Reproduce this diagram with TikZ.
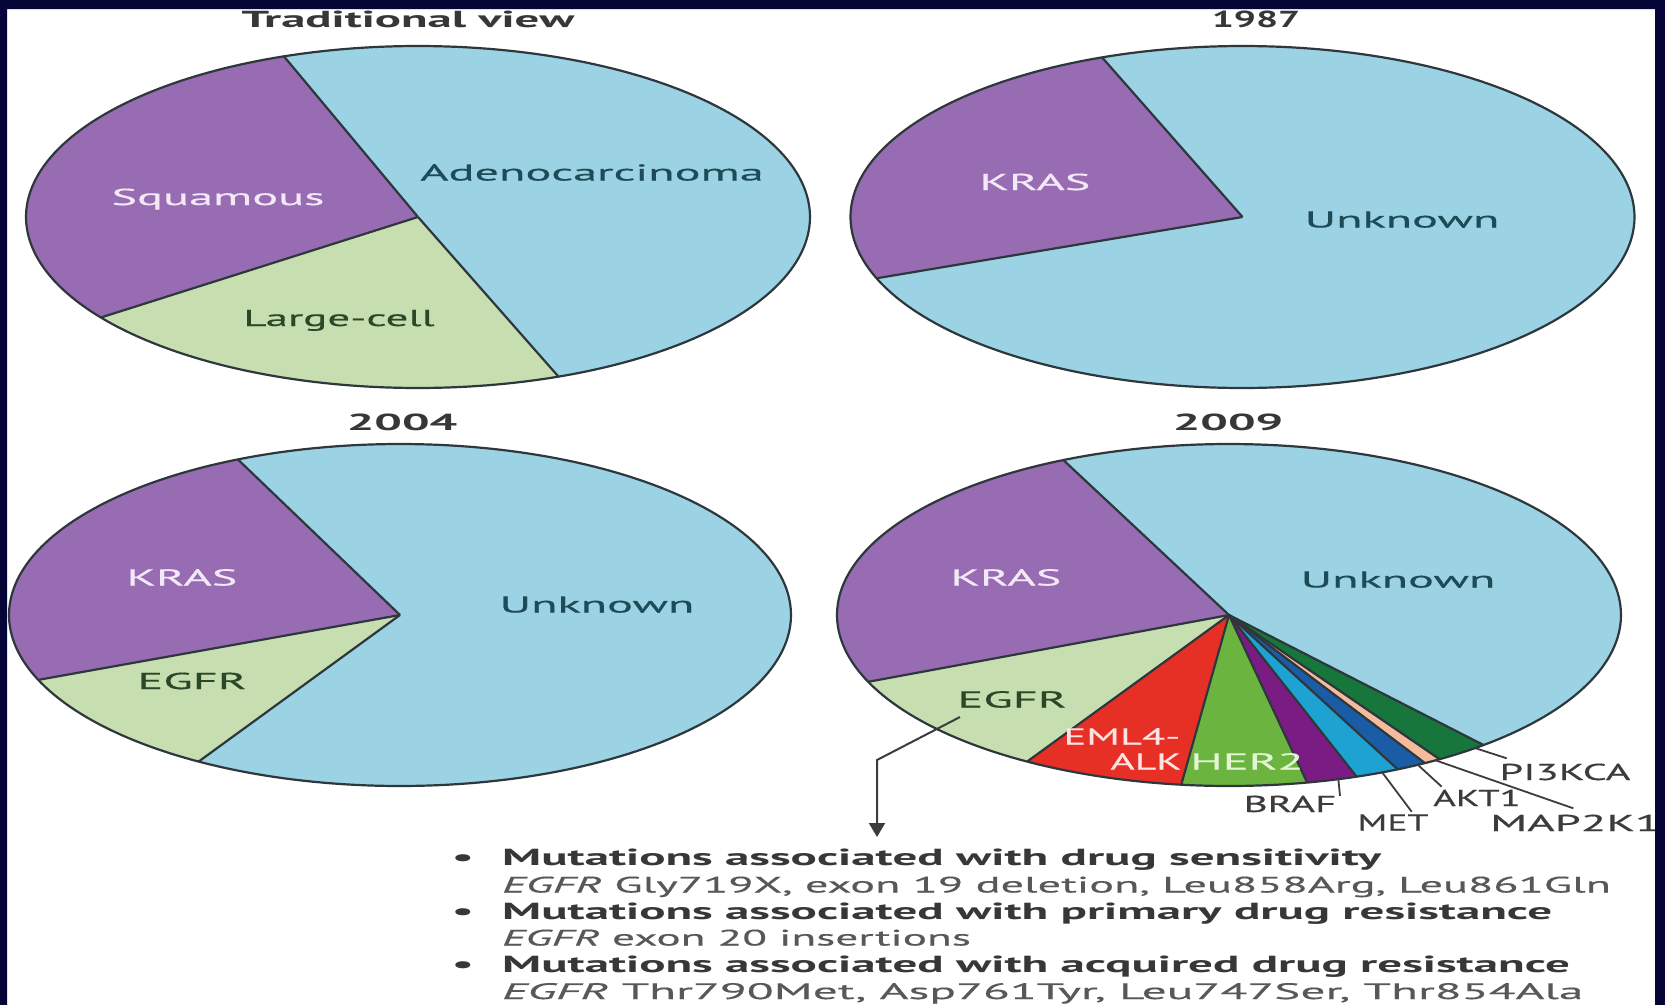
\documentclass[tikz,border=0pt]{standalone}
\usepackage{fontspec}
\setmainfont{PT Sans}[FakeStretch=2.1]
\newfontfamily\regfont{PT Sans}[FakeStretch=2.1,FakeBold=0.5]
\usetikzlibrary{arrows.meta}
\definecolor{navyframe}{RGB}{5,5,55}
\definecolor{ltblue}{RGB}{155,211,228}
\definecolor{purp}{RGB}{151,108,178}
\definecolor{ltgreen}{RGB}{199,222,176}
\definecolor{redw}{RGB}{230,48,38}
\definecolor{greenw}{RGB}{108,180,64}
\definecolor{brafc}{RGB}{122,28,132}
\definecolor{metc}{RGB}{30,162,210}
\definecolor{aktc}{RGB}{26,92,166}
\definecolor{mapc}{RGB}{246,186,156}
\definecolor{pic}{RGB}{22,118,60}
\definecolor{outl}{RGB}{45,55,60}
\definecolor{tealtxt}{RGB}{30,75,88}
\definecolor{lavtxt}{RGB}{243,232,247}
\definecolor{grtxt}{RGB}{42,72,40}
\definecolor{titletxt}{RGB}{55,55,55}
\definecolor{labtxt}{RGB}{60,60,60}
\definecolor{bodytxt}{RGB}{88,88,88}
\definecolor{boldtxt}{RGB}{55,55,55}
\definecolor{pinktxt}{RGB}{255,226,226}
\definecolor{paletxt}{RGB}{226,246,212}
\newcommand{\piewedge}[3]{\fill[#1] (0,0) -- plot[domain=#2:#3,samples=90,variable=\ang] ({cos(\ang)},{sin(\ang)}) -- cycle;}
\newcommand{\pieoutline}{\draw[rimline] plot[domain=0:360,samples=240,variable=\ang] ({cos(\ang)},{sin(\ang)}) -- cycle;}
\newcommand{\piespoke}[1]{\draw[rimline] (0,0) -- ({cos(#1)},{sin(#1)});}
\begin{document}
\begin{tikzpicture}[x=1pt,y=-1pt,
  rimline/.style={draw=outl, line width=2.2pt, line join=round},
  lab/.style={inner sep=0pt, anchor=base, font=\regfont\fontsize{23}{27}\selectfont},
  ttl/.style={inner sep=0pt, anchor=base, font=\fontsize{23.2}{27}\selectfont\bfseries, text=titletxt},
  outlab/.style={lab, text=labtxt},
  body/.style={inner sep=0pt, anchor=base west, font=\regfont\fontsize{22.4}{27}\selectfont, text=bodytxt},
  bodyb/.style={inner sep=0pt, anchor=base west, font=\fontsize{23.3}{27}\selectfont\bfseries, text=boldtxt},
  leader/.style={draw=labtxt, line width=1.8pt},
]
\useasboundingbox (0,0) rectangle (1665,1004);
\fill[white] (0,0) rectangle (1665,1004);

% ---------- Pie 1: Traditional view ----------
\begin{scope}[shift={(418pt,-217pt)}, x={(392pt,0pt)}, y={(0pt,171pt)}]
  \piewedge{ltblue}{-69}{110}
  \piewedge{purp}{110}{216}
  \piewedge{ltgreen}{216}{291}
  \piespoke{110}\piespoke{216}\piespoke{291}
  \pieoutline
\end{scope}

% ---------- Pie 2: 1987 ----------
\begin{scope}[shift={(1242.5pt,-217pt)}, x={(392pt,0pt)}, y={(0pt,171pt)}]
  \piewedge{ltblue}{201}{471}
  \piewedge{purp}{111}{201}
  \piespoke{111}\piespoke{201}
  \pieoutline
\end{scope}

% ---------- Pie 3: 2004 ----------
\begin{scope}[shift={(400pt,-615pt)}, x={(391pt,0pt)}, y={(0pt,171pt)}]
  \piewedge{ltblue}{239}{474.5}
  \piewedge{purp}{114.5}{202.3}
  \piewedge{ltgreen}{202.3}{239}
  \piespoke{114.5}\piespoke{202.3}\piespoke{239}
  \pieoutline
\end{scope}

% ---------- Pie 4: 2009 ----------
\begin{scope}[shift={(1229pt,-615pt)}, x={(392pt,0pt)}, y={(0pt,171pt)}]
  \piewedge{ltblue}{310.5}{475}
  \piewedge{purp}{115}{203}
  \piewedge{ltgreen}{203}{239}
  \piewedge{redw}{239}{263}
  \piewedge{greenw}{263}{281.5}
  \piewedge{brafc}{281.5}{289}
  \piewedge{metc}{289}{295.5}
  \piewedge{aktc}{295.5}{300}
  \piewedge{mapc}{300}{302.5}
  \piewedge{pic}{302.5}{310.5}
  \foreach \a in {115,203,239,263,281.5,289,295.5,300,302.5,310.5} {\piespoke{\a}}
  \pieoutline
  \coordinate (rBRAF) at ({cos(286.2)},{sin(286.2)});
  \coordinate (rMET) at ({cos(293)},{sin(293)});
  \coordinate (rAKT) at ({cos(298.8)},{sin(298.8)});
  \coordinate (rMAP) at ({cos(301.8)},{sin(301.8)});
  \coordinate (rPI) at ({cos(308.9)},{sin(308.9)});
\end{scope}

% ---------- Titles ----------
\node[ttl] (t1) at (408,27.5) {Traditional view};
\node[ttl] (t2) at (1256,27.5) {\scalebox{0.8}[1]{1987}};
\node[ttl] (t3) at (402,430) {2004};
\node[ttl] (t4) at (1228,430) {2009};

% ---------- Pie labels ----------
\node[lab, text=lavtxt] (p1sq) at (218,205) {Squamous};
\node[lab, text=tealtxt] (p1ad) at (592,180.5) {Adenocarcinoma};
\node[lab, text=grtxt] (p1lc) at (339,326) {\scalebox{0.93}[1]{Large-cell}};

\node[lab, text=lavtxt] (p2kr) at (1035,190) {KRAS};
\node[lab, text=tealtxt] (p2un) at (1402,227.5) {Unknown};

\node[lab, text=lavtxt] (p3kr) at (182,585.5) {KRAS};
\node[lab, text=grtxt] (p3eg) at (192,689) {EGFR};
\node[lab, text=tealtxt] (p3un) at (597,612.5) {Unknown};

\node[lab, text=lavtxt] (p4kr) at (1006,585.5) {KRAS};
\node[lab, text=tealtxt] (p4un) at (1398,587.5) {Unknown};
\node[lab, text=grtxt] (p4eg) at (1012,707.5) {EGFR};
\node[lab, text=pinktxt] (p4em) at (1122,744.5) {\scalebox{0.88}[1]{EML4-}};
\node[lab, text=pinktxt] (p4al) at (1146,769.5) {\scalebox{0.86}[1]{ALK}};
\node[lab, text=paletxt] (p4her) at (1247,769.5) {HER2};

% ---------- Outside labels and leaders ----------
\node[outlab] (lPI) at (1565,780) {\scalebox{0.88}[1]{PI3KCA}};
\node[outlab] (lAKT) at (1477,806) {\scalebox{0.8}[1]{AKT1}};
\node[outlab] (lBRAF) at (1290,812) {\scalebox{0.85}[1]{BRAF}};
\node[outlab] (lMET) at (1393,830.5) {\scalebox{0.78}[1]{MET}};
\node[outlab, anchor=base west] (lMAP) at (1490,831) {\scalebox{0.97}[1]{MAP2K1}};

\coordinate (ePI) at (1506.7,758.3);
\coordinate (eAKT) at (1441.7,786.7);
\coordinate (eBRAF) at (1340,796);
\coordinate (eMET) at (1411.7,811.7);
\coordinate (eMAP) at (1573.3,808.3);
\draw[leader] (rPI) -- (ePI);
\draw[leader] (rAKT) -- (eAKT);
\draw[leader] (rBRAF) -- (eBRAF);
\draw[leader] (rMET) -- (eMET);
\draw[leader] (rMAP) -- (eMAP);

% ---------- EGFR arrow ----------
\coordinate (aS) at (960,717);
\coordinate (aC) at (877,760);
\coordinate (aT) at (877,837);
\draw[leader, line width=2pt, line join=miter, -{Triangle[width=16pt,length=14pt]}] (aS) -- (aC) -- (aT);

% ---------- Bullet list ----------
\node[bodyb, anchor=base] (bu1) at (463,865.5) {•};
\node[bodyb, anchor=base] (bu2) at (463,919.5) {•};
\node[bodyb, anchor=base] (bu3) at (463,972.5) {•};
\node[bodyb] (b1) at (502,865.5) {Mutations associated with drug sensitivity};
\node[body] (b2) at (502,892.5) {\scalebox{0.985}[1]{\textit{EGFR} Gly719X, exon 19 deletion, Leu858Arg, Leu861Gln}};
\node[bodyb] (b3) at (502,919.5) {Mutations associated with primary drug resistance};
\node[body] (b4) at (502,945.5) {\scalebox{0.965}[1]{\textit{EGFR} exon 20 insertions}};
\node[bodyb] (b5) at (502,972.5) {Mutations associated with acquired drug resistance};
\node[body] (b6) at (502,999) {\scalebox{1.05}[1]{\textit{EGFR} Thr790Met, Asp761Tyr, Leu747Ser, Thr854Ala}};

% ---------- Frame ----------
\fill[navyframe, even odd rule] (-5,-5) rectangle (1670,1012) (7,9) rectangle (1655,1020);
\end{tikzpicture}
\end{document}
